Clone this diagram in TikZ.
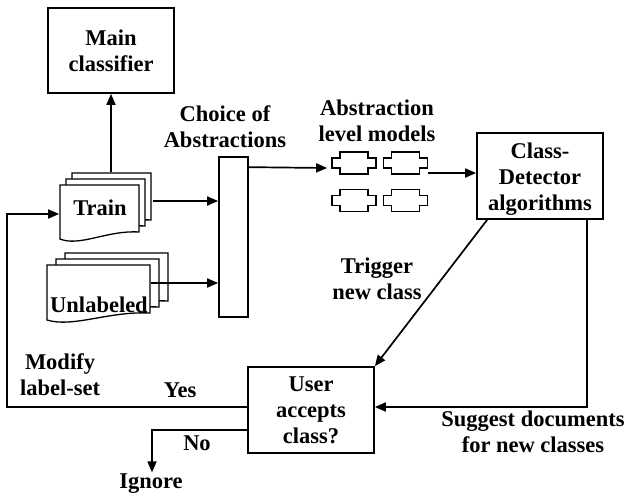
\documentclass[tikz,border=0pt]{standalone}
\usepackage{fontspec}
\setmainfont{Liberation Serif}
\usetikzlibrary{arrows.meta,positioning}

% one sheet of a document stack: left, top, width, height
\newcommand{\docpage}[4]{%
  \draw[page] (#1,#2) -- (#1+#3,#2) -- (#1+#3,#2+#4-7)
    .. controls (#1+0.6*#3,#2+#4-9) and (#1+0.25*#3,#2+#4+8) .. (#1,#2+#4) -- cycle;}

\begin{document}
\begin{tikzpicture}[x=1pt,y=-1pt,on grid,line width=1.7pt,
  >={Triangle[length=11pt,width=9pt]},
  font=\fontsize{22.5}{26}\selectfont\bfseries]
  \tikzstyle{box}=[rectangle,draw,align=center,inner sep=0pt,
                   minimum width=126pt,minimum height=86pt]
  \tikzstyle{bar}=[rectangle,draw,minimum width=29pt,minimum height=160pt]
  \tikzstyle{page}=[draw,fill=white,line width=1.3pt]
  \tikzstyle{stack}=[rectangle,inner sep=0pt]
  \tikzstyle{absbox}=[rectangle,inner sep=0pt,minimum width=44pt,minimum height=22pt]
  \tikzstyle{lbl}=[align=center,inner sep=0pt]

  \useasboundingbox (0,0) rectangle (628,493);

  \node[box,minimum height=85pt] (main) at (111,50.5) {Main\\classifier};
  \node[box] (cls) at (540,176) {};
  \node[lbl] (clsTxt) at (540,179) {Class-\\Detector\\algorithms};
  \node[box] (user) [below left=234pt and 229pt of cls] {User\\accepts\\class?};
  \node[bar] (choice) at (233.5,237) {};

  % document stacks
  \docpage{72}{173}{79}{54}
  \docpage{66}{179}{79}{54}
  \docpage{60}{185}{79}{54}
  \docpage{65}{253}{103}{55}
  \docpage{56}{259}{103}{55}
  \docpage{47}{265}{103}{55}
  \node[stack,minimum width=92pt,minimum height=56pt] (train) at (106,201) {};
  \node[stack,minimum width=103pt,minimum height=60pt] (unl) at (98.5,283) {};
  \node[lbl,anchor=base] (trainTxt) at (100,215) {Train};
  \node[lbl,anchor=base] (unlTxt) at (99,312) {Unlabeled};

  % abstraction level models
  \foreach \n/\cx/\cy in {1/354/163,2/405.5/163,3/354/200.5,4/405.5/200.5} {
    \node[absbox] (abs\n) at (\cx,\cy) {};
    \draw[line width=1.4pt] (\cx-14,\cy-11) -- (\cx+14,\cy-11) -- (\cx+14,\cy-5)
      -- (\cx+22,\cy-5) -- (\cx+22,\cy+5) -- (\cx+14,\cy+5) -- (\cx+14,\cy+11)
      -- (\cx-14,\cy+11) -- (\cx-14,\cy+5) -- (\cx-22,\cy+5) -- (\cx-22,\cy-5)
      -- (\cx-14,\cy-5) -- cycle;
  }

  \node[lbl] (choiceLbl) at (225,127) {Choice of\\Abstractions};
  \node[lbl] (absLbl) at (377,121) {Abstraction\\level models};
  \node[lbl] (trigLbl) at (377,279) {Trigger\\new class};
  \node[lbl] (sugLbl) at (533,432) {Suggest documents\\for new classes};
  \node[lbl] (modLbl) at (60,375) {Modify\\label-set};
  \node[lbl,anchor=base] (yes) at (180,397) {Yes};
  \node[lbl,anchor=base] (no) at (197,450) {No};
  \node[lbl,anchor=base] (ignore) at (151,488) {Ignore};

  \draw[->] (main.south |- train.north) -- (main.south);
  \draw[->] (train.east) -- (train.east -| choice.west);
  \draw[->] (unl.east) -- (unl.east -| choice.west);
  \draw[->] ([yshift=-11pt]choice.north east) -- ([xshift=-4pt,yshift=-5pt]abs1.west);
  \draw[->] ([yshift=-10pt]abs2.east) -- ([yshift=-10pt]abs2.east -| cls.west);
  \draw[->] ([xshift=11pt]cls.south west) -- (user.north east);
  \draw[->] ([xshift=-17pt]cls.south east) |- ([yshift=3pt]user.east);
  \draw[->] ([yshift=3pt]user.west) -- ++(-240,0) |- ([yshift=-13pt]train.west);
  \draw[->] ([yshift=-20pt]user.west) -| ([xshift=1pt]ignore.north);
\end{tikzpicture}
\end{document}
